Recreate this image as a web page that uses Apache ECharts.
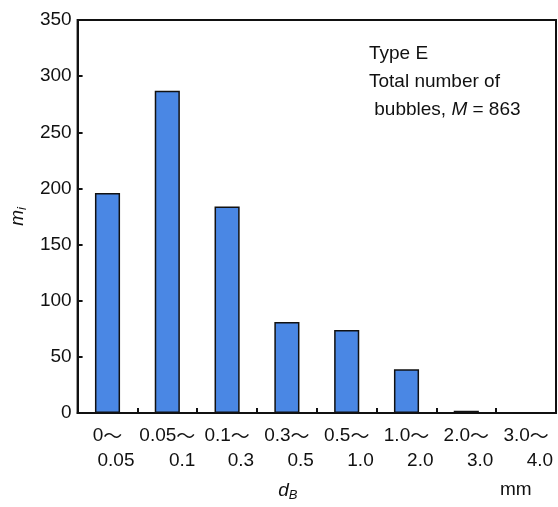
<!DOCTYPE html>
<html>
<head>
<meta charset="utf-8">
<script src="https://cdn.jsdelivr.net/npm/echarts@6/dist/echarts.min.js"></script>
<style>
  html, body { margin: 0; padding: 0; background: #fff; }
  #chart { width: 558px; height: 507px; }
</style>
</head>
<body>
<div id="chart"></div>
<script>
// Bubble-size classes (mm) and counts per class
const rangeFrom = ['0', '0.05', '0.1', '0.3', '0.5', '1.0', '2.0', '3.0'];
const rangeTo = ['0.05', '0.1', '0.3', '0.5', '1.0', '2.0', '3.0', '4.0'];
const counts = [196, 287, 184, 81, 74, 39, 2, 0];
const yTicks = { min: 0, max: 350, interval: 50 };

const FONT = '"Liberation Sans", Arial, sans-serif';
const TILDE_FONT = '"Noto Sans CJK JP", "Liberation Sans", sans-serif';
const categories = rangeFrom.map((f, i) => f + '|' + rangeTo[i]);

const chart = echarts.init(document.getElementById('chart'), null, { renderer: 'canvas' });
chart.setOption({
  animation: false,
  backgroundColor: '#fff',
  grid: {
    left: 76, right: 2, top: 20, bottom: 85,
    show: true, borderColor: '#111', borderWidth: 2, backgroundColor: 'transparent'
  },
  xAxis: {
    type: 'category',
    data: categories,
    axisLine: { lineStyle: { color: '#111', width: 2 } },
    axisTick: { show: true, inside: true, length: 5, interval: 0, lineStyle: { color: '#111', width: 2 } },
    axisLabel: {
      interval: 0,
      margin: 10,
      color: '#111',
      fontFamily: FONT,
      fontSize: 19,
      lineHeight: 25,
      formatter: v => {
        const [a, b] = v.split('|');
        return '{a|' + a + '}{t|～}\n{b|' + b + '}';
      },
      rich: {
        a: { fontFamily: FONT, fontSize: 19, color: '#111', lineHeight: 25 },
        t: { fontFamily: TILDE_FONT, fontSize: 19, color: '#111', lineHeight: 25 },
        // lower bound sits against the right edge of its class slot
        b: { fontFamily: FONT, fontSize: 19, color: '#111', lineHeight: 25, width: 54, align: 'right' }
      }
    },
    name: '{i|d}{s|B}',
    nameLocation: 'middle',
    nameGap: 66,
    nameTextStyle: {
      padding: [0, 58, 0, 0],
      rich: {
        i: { fontFamily: FONT, fontSize: 19, fontStyle: 'italic', color: '#111' },
        s: { fontFamily: FONT, fontSize: 13, fontStyle: 'italic', color: '#111', padding: [10, 0, 0, 0] }
      }
    }
  },
  yAxis: {
    type: 'value',
    min: yTicks.min, max: yTicks.max, interval: yTicks.interval,
    splitLine: { show: false },
    axisLine: { show: true, lineStyle: { color: '#111', width: 2 } },
    axisTick: { show: true, inside: true, length: 5, lineStyle: { color: '#111', width: 2 } },
    axisLabel: { color: '#111', fontFamily: FONT, fontSize: 19, margin: 6 },
    name: '{i|m}{s|i}',
    nameLocation: 'middle',
    nameGap: 42,
    nameRotate: 90,
    nameTextStyle: {
      rich: {
        i: { fontFamily: FONT, fontSize: 19, fontStyle: 'italic', color: '#111' },
        s: { fontFamily: FONT, fontSize: 13, fontStyle: 'italic', color: '#111', padding: [10, 0, 0, 0] }
      }
    }
  },
  series: [{
    type: 'bar',
    data: counts,
    barWidth: '42%',
    itemStyle: { color: '#4a87e4', borderColor: '#111', borderWidth: 1.5 }
  }],
  graphic: [
    {
      type: 'text', left: 369, top: 40,
      style: {
        text: 'Type E\nTotal number of\n{n| bubbles, }{m|M}{n| = 863}',
        fontFamily: FONT, fontSize: 19, lineHeight: 28, fill: '#111',
        rich: {
          n: { fontFamily: FONT, fontSize: 19, lineHeight: 28, color: '#111' },
          m: { fontFamily: FONT, fontSize: 19, lineHeight: 28, fontStyle: 'italic', color: '#111' }
        }
      }
    },
    {
      type: 'text', left: 500, top: 480,
      style: { text: 'mm', fontFamily: FONT, fontSize: 19, fill: '#111' }
    }
  ]
});
</script>
</body>
</html>
